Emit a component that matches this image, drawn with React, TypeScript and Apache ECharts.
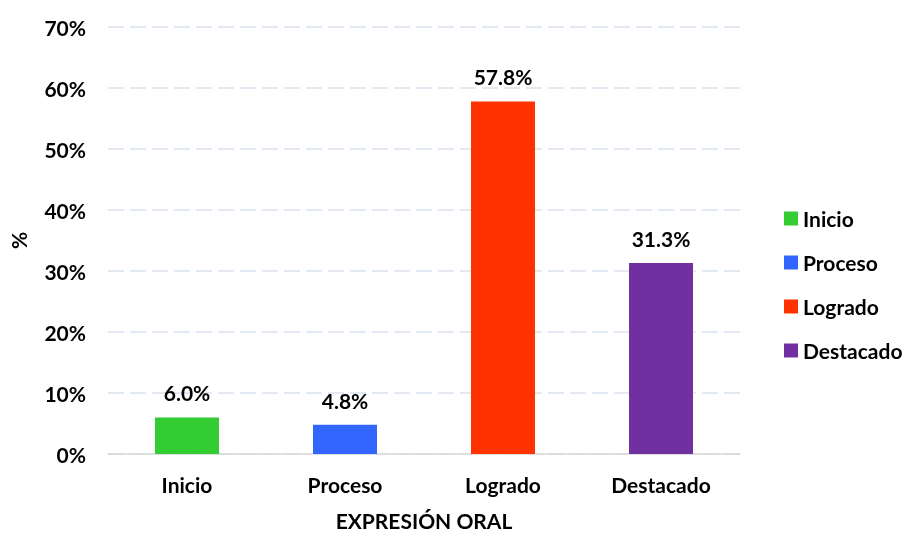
import React, { useEffect, useRef } from "react";
import * as echarts from "echarts";

const categories = ["Inicio", "Proceso", "Logrado", "Destacado"];
const values = [6.0, 4.8, 57.8, 31.3];
const colors = ["#33CC33", "#3366FF", "#FF3300", "#7030A0"];
const yTicks = [0, 10, 20, 30, 40, 50, 60, 70];

const FONT = "Lato, 'Open Sans', sans-serif";
const FS = 21;

export default function App() {
  const ref = useRef<HTMLDivElement>(null);
  useEffect(() => {
    if (!ref.current) return;
    const chart = echarts.init(ref.current, undefined, { renderer: "svg" });
    const series = categories.map((c, i) => ({
      name: c,
      type: "bar",
      stack: "all",
      barWidth: 64,
      itemStyle: { color: colors[i] },
      label: {
        show: true,
        position: "top",
        distance: 14,
        formatter: (p: any) => p.value.toFixed(1) + "%",
        fontFamily: FONT,
        fontWeight: "bold",
        fontSize: FS,
        color: "#000",
      },
      data: categories.map((_, j) => (j === i ? values[i] : null)),
    }));
    chart.setOption({
      animation: false,
      textStyle: { fontFamily: FONT },
      grid: { left: 105, right: 168, top: 27, bottom: 68, containLabel: false },
      legend: {
        orient: "vertical",
        left: 779,
        top: 203,
        itemWidth: 14,
        itemHeight: 14,
        itemGap: 23,
        icon: "rect",
        data: categories,
        textStyle: { fontFamily: FONT, fontWeight: "bold", fontSize: FS, color: "#000" },
      },
      xAxis: {
        type: "category",
        data: categories,
        name: "EXPRESIÓN ORAL",
        nameLocation: "middle",
        nameGap: 56,
        nameTextStyle: { fontFamily: FONT, fontWeight: "bold", fontSize: FS, color: "#000" },
        axisLine: { lineStyle: { color: "#D9D9D9", width: 1.5 } },
        axisTick: { show: false },
        axisLabel: { fontFamily: FONT, fontWeight: "bold", fontSize: FS, color: "#000", margin: 20 },
      },
      yAxis: {
        type: "value",
        min: yTicks[0],
        max: yTicks[yTicks.length - 1],
        interval: 10,
        name: "%",
        nameLocation: "middle",
        nameRotate: 90,
        nameGap: 79,
        nameTextStyle: { fontFamily: FONT, fontWeight: "bold", fontSize: FS, color: "#000" },
        axisLine: { show: false },
        axisTick: { show: false },
        axisLabel: { fontFamily: FONT, fontWeight: "bold", fontSize: FS, color: "#000", margin: 22, formatter: (v: number) => v + "%" },
        splitLine: { lineStyle: { color: "#D9E2F0", type: [16, 6], width: 1.5 } },
      },
      series,
    });
    return () => chart.dispose();
  }, []);
  return <div ref={ref} style={{ position: "fixed", left: 0, top: 0, width: 908, height: 536 }} />;
}
